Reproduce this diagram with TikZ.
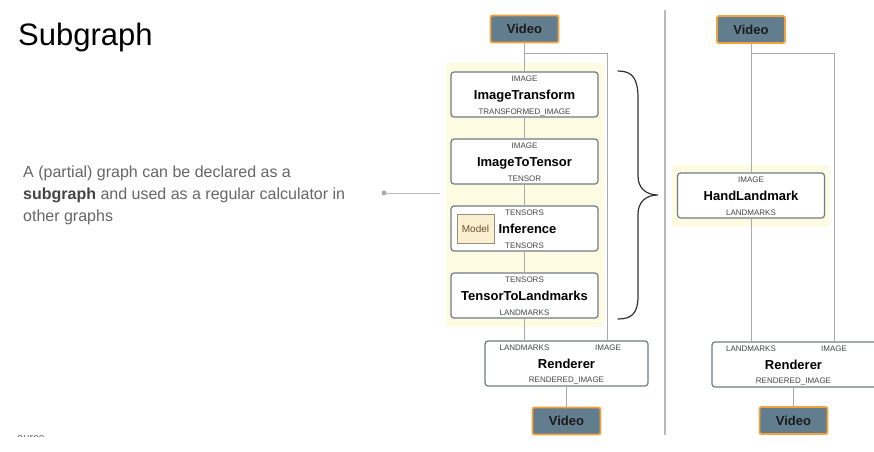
\documentclass[tikz,border=0pt]{standalone}
\usepackage{fontspec}
\setmainfont{Liberation Sans}
\definecolor{vfill}{HTML}{627D8E}
\definecolor{vborder}{HTML}{F4A23C}
\definecolor{vtext}{HTML}{1A1A1A}
\definecolor{boxborder}{HTML}{6F7B84}
\definecolor{linegray}{HTML}{A9A9A9}
\definecolor{yellowbg}{HTML}{FDFBE1}
\definecolor{modelfill}{HTML}{FBEFD2}
\definecolor{modelborder}{HTML}{9C8C76}
\definecolor{modeltext}{HTML}{6B4F2A}
\definecolor{bodygray}{HTML}{666666}
\definecolor{lblgray}{HTML}{444444}
\begin{document}
\begin{tikzpicture}[x=1pt,y=-1pt,
  video/.style={draw=vborder, line width=1.8pt, fill=vfill, rounded corners=2pt,
    minimum width=68pt, minimum height=27pt, inner sep=0pt, text=vtext,
    font=\bfseries\fontsize{13}{13}\selectfont},
  calc/.style={draw=boxborder, line width=1.2pt, fill=white, rounded corners=3pt,
    minimum width=147pt, minimum height=45pt, inner sep=0pt},
  lbl/.style={font=\fontsize{8}{8}\selectfont, text=lblgray, inner sep=0pt,
    text height=5.8pt, text depth=0pt},
  cname/.style={font=\bfseries\fontsize{13}{13}\selectfont, text=black, inner sep=0pt,
    text height=9.4pt, text depth=0pt},
  conn/.style={draw=linegray, line width=1pt},
  body/.style={font=\fontsize{16}{22}\selectfont, text=bodygray, inner sep=0pt, anchor=base west}
]
\useasboundingbox (0,0) rectangle (874,451);
\fill[white] (0,0) rectangle (874,451);

% title and text
\node[font=\fontsize{31}{31}\selectfont, inner sep=0pt, anchor=base west] (title) at (18,45) {Subgraph};
\node[body] (t1) at (23,177) {A (partial) graph can be declared as a};
\node[body] (t2) at (23,199) {\textcolor{lblgray}{\bfseries subgraph} and used as a regular calculator in};
\node[body] (t3) at (23,221) {other graphs};
\coordinate (dot) at (384,193);
\coordinate (dotend) at (440,193);
\fill[linegray] (dot) circle (2.5);
\draw[draw=linegray!80, line width=1pt] (dot) -- (dotend);

% source (clipped)
\begin{scope}
\clip (10,425) rectangle (80,436.5);
\node[font=\fontsize{11}{11}\selectfont, text=bodygray, inner sep=0pt, anchor=base west] (src) at (17,441) {ource};
\end{scope}

% divider
\draw[draw=linegray!80, line width=1.5pt] (665,10) -- (665,435);

% left yellow background
\fill[yellowbg] (446,63) rectangle (604,327);
% right yellow background
\fill[yellowbg] (672,165) rectangle (829,227);

% left graph nodes
\node[video] (vtopL) at (524.5,29) {Video};
\node[calc] (it) at (524.5,94.5) {};
\node[calc] (itt) at (524.5,161.5) {};
\node[calc] (inf) at (524.5,228.5) {};
\node[calc] (ttl) at (524.5,295.5) {};
\node[calc, minimum width=163pt] (rendL) at (566.5,363.5) {};
\node[video] (vbotL) at (566.5,421) {Video};

\node[lbl] (itin) at ([yshift=-7.5pt]it.north) {IMAGE};
\node[cname] (itn) at (it.center) {ImageTransform};
\node[lbl] (itout) at ([yshift=6pt]it.south) {TRANSFORMED\_IMAGE};

\node[lbl] (ittin) at ([yshift=-7.5pt]itt.north) {IMAGE};
\node[cname] (ittn) at (itt.center) {ImageToTensor};
\node[lbl] (ittout) at ([yshift=6pt]itt.south) {TENSOR};

\node[lbl] (infin) at ([yshift=-7.5pt]inf.north) {TENSORS};
\node[cname] (infn) at ([xshift=3pt]inf.center) {Inference};
\node[lbl] (infout) at ([yshift=6pt]inf.south) {TENSORS};
\node[draw=modelborder, line width=1pt, fill=modelfill, minimum width=37pt, minimum height=29pt,
  inner sep=0pt, text=modeltext, font=\fontsize{10}{10}\selectfont] (model) at (475.5,228.5) {Model};

\node[lbl] (ttlin) at ([yshift=-7.5pt]ttl.north) {TENSORS};
\node[cname] (ttln) at (ttl.center) {TensorToLandmarks};
\node[lbl] (ttlout) at ([yshift=6pt]ttl.south) {LANDMARKS};

\node[lbl] (rLin1) at (524.5,347.5) {LANDMARKS};
\node[lbl] (rLin2) at (608,347.5) {IMAGE};
\node[cname] (rLn) at (566.5,363.5) {Renderer};
\node[lbl] (rLout) at (566.5,380) {RENDERED\_IMAGE};

% left connectors
\coordinate (lbr) at (607,53);
\draw[conn] (vtopL.south) -- (it.north);
\draw[conn] (it.south) -- (itt.north);
\draw[conn] (itt.south) -- (inf.north);
\draw[conn] (inf.south) -- (ttl.north);
\draw[conn] (ttl.south) -- (ttl.south |- rendL.north);
\draw[conn] (vtopL.south |- lbr) -- (lbr) -- (lbr |- rendL.north);
\draw[conn] (rendL.south) -- (vbotL.north);

% brace
\draw[draw=black!80, line width=1.2pt, line cap=round]
  (618,71) .. controls (632,71) and (638,78) .. (638,98) -- (638,176)
  .. controls (638,188) and (646,195) .. (658,195)
  .. controls (646,195) and (638,202) .. (638,214) -- (638,296)
  .. controls (638,313) and (632,319) .. (618,319);

% right graph nodes
\node[video] (vtopR) at (751,29.5) {Video};
\node[calc] (hand) at (751,195.5) {};
\node[lbl] (hin) at ([yshift=-7.5pt]hand.north) {IMAGE};
\node[cname] (hn) at (hand.center) {HandLandmark};
\node[lbl] (hout) at ([yshift=6pt]hand.south) {LANDMARKS};
\node[calc, minimum width=170pt] (rendR) at (797,364.5) {};
\node[lbl] (rRin1) at (751,348.5) {LANDMARKS};
\node[lbl] (rRin2) at (834,348.5) {IMAGE};
\node[cname] (rRn) at (793.5,364.5) {Renderer};
\node[lbl] (rRout) at (793.5,381) {RENDERED\_IMAGE};
\node[video] (vbotR) at (793.5,420.5) {Video};

% right connectors
\coordinate (rbr) at (834,53);
\draw[conn] (vtopR.south) -- (hand.north);
\draw[conn] (hand.south) -- (hand.south |- rendR.north);
\draw[conn] (vtopR.south |- rbr) -- (rbr) -- (rbr |- rendR.north);
\draw[conn] (rRn.south |- rendR.south) -- (vbotR.north);
\end{tikzpicture}
\end{document}
